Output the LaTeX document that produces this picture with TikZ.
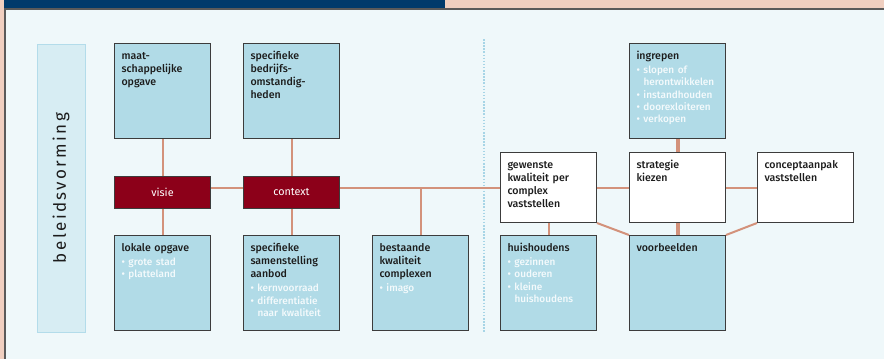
\documentclass[tikz,border=0pt]{standalone}
\usepackage{fontspec}
\usepackage{xcolor}
\usetikzlibrary{positioning,calc}
\setmainfont{Fira Sans}
\newfontfamily\mediumfont{Fira Sans Medium}
\newfontfamily\spacedfont{Fira Sans}[LetterSpace=14]

\definecolor{topblue}{HTML}{003A6B}
\definecolor{salmon}{HTML}{F0CFC0}
\definecolor{framegrey}{HTML}{5A5A5A}
\definecolor{bgblue}{HTML}{EFF8FA}
\definecolor{boxblue}{HTML}{B1DBE7}
\definecolor{boxline}{HTML}{3C3C3C}
\definecolor{boxred}{HTML}{8C0019}
\definecolor{linkcol}{HTML}{D3927B}
\definecolor{sidefill}{HTML}{D7EDF3}
\definecolor{sideline}{HTML}{B3DCEA}
\definecolor{dotcol}{HTML}{A7D5E6}
\definecolor{bulletwhite}{HTML}{F4FAFC}
\definecolor{textdark}{HTML}{1C1C1C}

% bullet item with hanging indent
\newcommand{\itm}[1]{\par{\color{bulletwhite}\mediumfont\fontsize{10}{12.4}\selectfont
  \hangindent=0.7em\hangafter=1\leavevmode\hbox to 0.7em{\textbullet\hss}#1\par}}
\newcommand{\bul}{\par\vspace{1.8pt}}

\tikzset{
  box/.style={draw=boxline, line width=1pt, text width=82pt, align=left, inner sep=7pt,
    text height=8.5pt, anchor=north west, text=textdark,
    font=\mediumfont\fontsize{10.6}{13.3}\selectfont},
  bluebox/.style={box, fill=boxblue, text depth=72.5pt},
  whitebox/.style={box, fill=white, text depth=47.5pt},
  redbox/.style={draw=boxline, line width=1pt, fill=boxred, text=white, anchor=north west,
    minimum width=96pt, minimum height=32pt, inner sep=0pt,
    font=\fontsize{10.8}{12}\selectfont},
  link/.style={draw=linkcol, line width=2pt},
  thicklink/.style={link, line width=4pt}
}

\begin{document}
\begin{tikzpicture}[x=1pt, y=-1pt]
    \useasboundingbox (0,0) rectangle (884,359);

    % Frame and header band
    \fill[salmon] (0,0) rectangle (884,359);
    \fill[topblue] (4,0) rectangle (445,8.3);
    \fill[framegrey] (4,8.3) rectangle (884,359);
    \fill[bgblue] (5.5,9.8) rectangle (884,359);

    % Side label
    \draw[fill=sidefill, draw=sideline, line width=1pt] (37,44) rectangle (85,332);
    \node[rotate=90, text=textdark, font=\spacedfont\fontsize{17}{17}\selectfont] (side) at (61,188) {beleidsvorming};

    % Divider
    \draw[dotcol, line width=1.6pt, dash pattern=on 1.5pt off 1.6pt] (484,39) -- (484,332);

    % Left part
    \node[bluebox] (maat) at (114,43) {maat-\\schappelijke\\opgave};
    \node[redbox] (visie) at (114,176) {visie};
    \node[bluebox] (lokaal) at (114,235) {lokale opgave\bul\itm{grote stad}\itm{platteland}};

    \node[bluebox] (bedrijf) at (243,43) {specifieke\\bedrijfs-\\omstandig-\\heden};
    \node[redbox] (context) at (243,176) {context};
    \node[bluebox] (aanbod) at (243,235) {specifieke\\samenstelling\\aanbod\bul\itm{kernvoorraad}\itm{differentiatie\newline naar kwaliteit}};

    \node[bluebox] (bestaand) at (372,235) {bestaande\\kwaliteit\\complexen\bul\itm{imago}};

    % Right part
    \node[whitebox] (gewenst) at (500,152) {gewenste\\kwaliteit per\\complex\\vaststellen};
    \node[bluebox] (huish) at (500,235) {huishoudens\bul\itm{gezinnen}\itm{ouderen}\itm{kleine\newline huishoudens}};

    \node[bluebox] (ingrepen) at (629,43) {ingrepen\bul\itm{slopen of\newline herontwikkelen}\itm{instandhouden}\itm{doorexloiteren}\itm{verkopen}};
    \node[whitebox] (strategie) at (629,152) {strategie\\kiezen};
    \node[bluebox] (voorb) at (629,235) {voorbeelden};

    \node[whitebox] (concept) at (757,152) {conceptaanpak\\vaststellen};

    % Connectors
    \draw[link] (maat) -- (visie);
    \draw[link] (visie) -- (lokaal);
    \draw[link] (bedrijf) -- (context);
    \draw[link] (context) -- (aanbod);
    \draw[link] (visie.east |- gewenst.west) -- (context.west |- gewenst.west);
    \draw[link] (context.east |- gewenst.west) -- (gewenst.west);
    \draw[link] (bestaand.north) -- (bestaand.north |- gewenst.west);
    \draw[link] (gewenst.east) -- (strategie.west);
    \draw[link] (strategie.east) -- (strategie.east -| concept.west);
    \draw[link] (gewenst.south) -- (huish.north);
    \draw[link] (gewenst.south east) -- (voorb.north west);
    \draw[link] (concept.south west) -- (voorb.north east);
    \draw[thicklink] (ingrepen) -- (strategie);
    \draw[thicklink] (strategie) -- (voorb);
\end{tikzpicture}
\end{document}
